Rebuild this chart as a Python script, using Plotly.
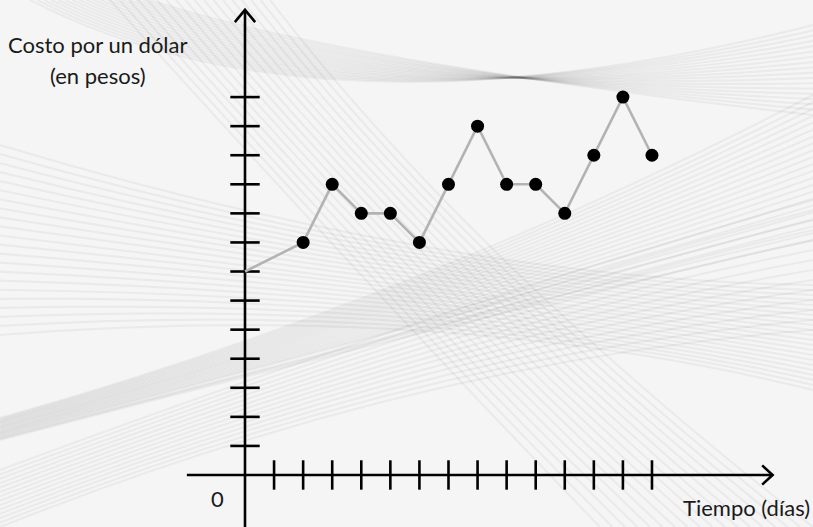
import plotly.graph_objects as go

# Costo del dólar por día
dias = [0, 2, 3, 4, 5, 6, 7, 8, 9, 10, 11, 12, 13, 14]
costo = [7, 8, 10, 9, 9, 8, 10, 12, 10, 10, 9, 11, 13, 11]
x_marcas = list(range(1, 15))
y_marcas = list(range(1, 14))

X_FIN, Y_FIN = 18.15, 16.0   # puntas de flecha de los ejes
X_INI, Y_INI = -2.0, -2.5
BG = "#f5f5f5"
FONT = "Lato"
W, H = 813, 527

fig = go.Figure()

# fondo decorativo: haces de curvas tenues (en píxeles de la página)
HACES = [
    # inicio a, inicio b, control a, control b, fin a, fin b, n
    ((0, 418), (0, 440), (420, 300), (420, 330), (813, 95), (813, 240), 22),
    ((0, 145), (0, 335), (450, 280), (450, 300), (813, 285), (813, 390), 22),
    ((30, 0), (150, 0), (320, 150), (330, 60), (813, 25), (813, 115), 18),
    ((110, 0), (270, 0), (380, 300), (470, 260), (600, 527), (813, 527), 18),
    ((0, 527), (0, 470), (420, 360), (460, 300), (813, 330), (813, 200), 14),
]


def _mix(a, b, t):
    return (a[0] + (b[0] - a[0]) * t, a[1] + (b[1] - a[1]) * t)


for p0a, p0b, ca, cb, p1a, p1b, n in HACES:
    for i in range(n):
        t = i / (n - 1)
        pts = [_mix(p0a, p0b, t), _mix(ca, cb, t), _mix(p1a, p1b, t)]
        x0, c, x1 = [(px / W, 1 - py / H) for px, py in pts]
        fig.add_shape(type="path", xref="paper", yref="paper", layer="below",
                      path=f"M{x0[0]},{x0[1]} Q{c[0]},{c[1]} {x1[0]},{x1[1]}",
                      line=dict(color="rgba(0,0,0,0.045)", width=2.2))

# ejes
eje = dict(color="black", width=2.6)
fig.add_trace(go.Scatter(x=[X_INI, X_FIN], y=[0, 0], mode="lines", line=eje))
fig.add_trace(go.Scatter(x=[0, 0], y=[Y_INI, Y_FIN], mode="lines", line=eje))
# flechas abiertas
fig.add_trace(go.Scatter(x=[X_FIN - 0.36, X_FIN, X_FIN - 0.36],
                         y=[0.33, 0, -0.33], mode="lines", line=eje))
fig.add_trace(go.Scatter(x=[-0.35, 0, 0.35],
                         y=[Y_FIN - 0.42, Y_FIN, Y_FIN - 0.42], mode="lines", line=eje))

# marcas que cruzan los ejes
marca = dict(size=21, line=dict(color="black", width=2.6))
fig.add_trace(go.Scatter(x=x_marcas, y=[0] * len(x_marcas), mode="markers",
                         marker=dict(symbol="line-ns", **marca)))
fig.add_trace(go.Scatter(x=[0] * len(y_marcas), y=y_marcas, mode="markers",
                         marker=dict(symbol="line-ew", **marca)))

# serie
fig.add_trace(go.Scatter(x=dias, y=costo, mode="lines",
                         line=dict(color="#b3b3b3", width=2.6)))
fig.add_trace(go.Scatter(x=dias[1:], y=costo[1:], mode="markers",
                         marker=dict(color="black", size=13)))

txt = dict(family=FONT, size=22, color="#1a1a1a")
fig.add_annotation(x=-5.06, y=14.8, text="Costo por un dólar", showarrow=False,
                   xanchor="center", yanchor="middle", font=txt)
fig.add_annotation(x=-5.06, y=13.75, text="(en pesos)", showarrow=False,
                   xanchor="center", yanchor="middle", font=txt)
fig.add_annotation(x=-0.96, y=-0.8, text="0", showarrow=False,
                   xanchor="center", yanchor="middle", font=txt)
fig.add_annotation(x=19.5, y=-1.12, text="Tiempo (días)", showarrow=False,
                   xanchor="right", yanchor="middle", font=txt)

fig.update_xaxes(range=[-8.428, 19.539], visible=False, fixedrange=True)
fig.update_yaxes(range=[-1.789, 16.34], visible=False, fixedrange=True)
fig.update_layout(width=W, height=H, margin=dict(l=0, r=0, t=0, b=0),
                  showlegend=False, paper_bgcolor=BG, plot_bgcolor=BG)

fig.write_html("out.html", config={"displayModeBar": False},
               post_script="document.body.style.margin='0';"
                           "document.body.style.overflow='hidden';")
